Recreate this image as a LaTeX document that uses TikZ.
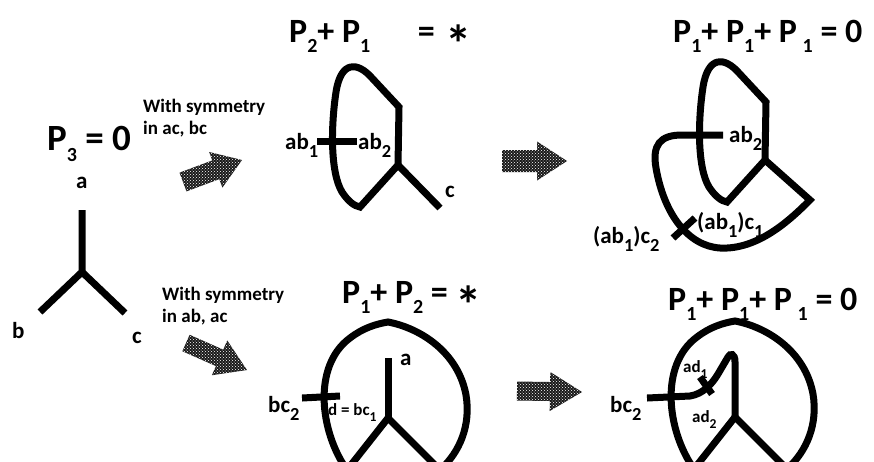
\documentclass[tikz,border=0pt]{standalone}
\usepackage{fontspec}
\setmainfont{Carlito}
\usetikzlibrary{patterns,calc}
\newcommand\tsub[1]{\raisebox{-0.3em}{\fontsize{20}{20}\selectfont #1}}
\newcommand\lsub[1]{\raisebox{-0.38em}{\scalebox{0.8}{#1}}}
\newcommand\bigast{\raisebox{-0.6em}{\scalebox{1.55}{*}}}
\newcommand\blockarr[5]{%
  \coordinate (#1-n) at ($(#2)!#5!(#1)$);
  \path[hatchfill] ($(#1)!#3!90:(#2)$) -- ($(#1-n)!#3!90:(#2)$) -- ($(#1-n)!#4!90:(#2)$) -- (#2)
     -- ($(#1-n)!#4!-90:(#2)$) -- ($(#1-n)!#3!-90:(#2)$) -- ($(#1)!#3!-90:(#2)$) -- cycle;}
\newcommand\loopApath{(0,0) -- (1,-58) -- (-26,-87) .. controls (-40,-103) and (-57,-105) .. (-62,-73)
  .. controls (-67,-40) and (-68,7) .. (-56,27) .. controls (-50,36) and (-44,41) .. (-38,42) -- cycle}
\newcommand\loopBpath{(0,0) -- (-41,52) .. controls (-68,14) and (-76,-52) .. (-38,-80)
  .. controls (-25,-90) and (-12,-94) .. (0,-96) .. controls (32,-90) and (70,-66) .. (78,-23)
  .. controls (83,7) and (72,34) .. (52,52) -- cycle}
\tikzset{
  wire/.style={line width=7pt},
  ttl/.style={font=\fontsize{34}{38}\selectfont\bfseries, anchor=base west, inner sep=0pt},
  big/.style={font=\fontsize{37}{40}\selectfont\bfseries, anchor=base west, inner sep=0pt},
  lbl/.style={font=\fontsize{23}{26}\selectfont\bfseries, anchor=base west, inner sep=0pt},
  sml/.style={font=\fontsize{17}{19}\selectfont\bfseries, anchor=base west, inner sep=0pt},
  note/.style={font=\fontsize{19}{22}\selectfont\bfseries, anchor=base west, inner sep=0pt},
  hatchfill/.style={preaction={fill=black!90}, pattern=crosshatch dots, pattern color=white}
}
\begin{document}
\begin{tikzpicture}[x=1pt,y=-1pt]
\fill[white] (0,0) rectangle (874,461);
\useasboundingbox (0,0) rectangle (874,461);
\clip (0,0) rectangle (874,461);

% ---- left: P3 = 0 and the Y ----
\node[big] (tp3) at (47,150) {P\tsub{3} = 0};
\coordinate (ya) at (82,210);
\coordinate (yv) at (82,272);
\coordinate (yb) at (40,312);
\coordinate (yc) at (125,313);
\draw[wire] (ya) -- (yv) -- (yb);
\draw[wire] (yv) -- (yc);
\node[lbl] (la) at (76,188) {a};
\node[lbl] (lb) at (12,338) {b};
\node[lbl] (lc) at (132,343) {c};

% ---- notes and arrows ----
\node[note] (n1a) at (143,112) {With symmetry};
\node[note] (n1b) at (143,134) {in ac, bc};
\node[note] (n2a) at (162,300) {With symmetry};
\node[note] (n2b) at (162,322) {in ab, ac};

\coordinate (a1t) at (183,182); \coordinate (a1h) at (242,160);
\blockarr{a1t}{a1h}{10pt}{19pt}{28pt}
\coordinate (a2t) at (186,343); \coordinate (a2h) at (247,370);
\blockarr{a2t}{a2h}{9pt}{19pt}{30pt}
\coordinate (a3t) at (502,161); \coordinate (a3h) at (567,161);
\blockarr{a3t}{a3h}{11pt}{19.5pt}{30pt}
\coordinate (a4t) at (517,391); \coordinate (a4h) at (582,392);
\blockarr{a4t}{a4h}{9.5pt}{19.5pt}{32pt}

% ---- top middle: P2 + P1 = * ----
\node[ttl] (t2) at (289,42) {P\tsub{2}+ P\tsub{1}\hspace{1.4em}=\hspace{0.3em}\bigast};
\coordinate (v2) at (398,165);
\coordinate (t2c) at (440,208);
\begin{scope}[shift={(v2)}]
  \draw[wire] \loopApath;
\end{scope}
\draw[wire] (v2) -- (t2c);
\coordinate (x2a) at (317,141); \coordinate (x2b) at (357,141);
\draw[wire] (x2a) -- (x2b);
\node[lbl] (l2a) at (285,149) {ab\lsub{1}};
\node[lbl] (l2b) at (358,149) {ab\lsub{2}};
\node[lbl] (l2c) at (445,197) {c};

% ---- top right: P1 + P1 + P1 = 0 ----
\node[ttl] (t3) at (673,42) {P\tsub{1}+ P\tsub{1}+ P\,\tsub{1} = 0};
\coordinate (v3) at (765,160);
\coordinate (k3) at (810,200);
\coordinate (e3) at (723,135);
\begin{scope}[shift={(v3)}]
  \draw[wire] \loopApath;
\end{scope}
\draw[wire] (v3) -- (k3) .. controls (790,220) and (758,250) .. (720,248)
  .. controls (688,246) and (664,214) .. (656,168) .. controls (652,145) and (660,135) .. (682,135) -- (e3);
\coordinate (x3a) at (673,238); \coordinate (x3b) at (695,218);
\draw[wire] (x3a) -- (x3b);
\node[lbl] (l3a) at (729,142) {ab\lsub{2}};
\node[lbl] (l3b) at (697,229) {(ab\lsub{1})c\lsub{1}};
\node[lbl] (l3c) at (593,243) {(ab\lsub{1})c\lsub{2}};

% ---- bottom middle: P1 + P2 = * ----
\node[ttl] (t4) at (342,303) {P\tsub{1}+ P\tsub{2} = \bigast};
\coordinate (v4) at (388,418);
\coordinate (s4) at (388,358);
\begin{scope}[shift={(v4)}]
  \draw[wire] \loopBpath;
\end{scope}
\draw[wire] (v4) -- (s4);
\coordinate (x4a) at (302,398); \coordinate (x4b) at (340,396);
\draw[wire] (x4a) -- (x4b);
\node[lbl] (l4a) at (400,365) {a};
\node[lbl] (l4b) at (268,412) {bc\lsub{2}};
\node[sml] (l4c) at (328,415) {d = bc\lsub{1}};

% ---- bottom right: P1 + P1 + P1 = 0 ----
\node[ttl] (t5) at (668,310) {P\tsub{1}+ P\tsub{1}+ P\,\tsub{1} = 0};
\coordinate (v5) at (735,417);
\coordinate (b5) at (647,398);
\begin{scope}[shift={(v5)}]
  \draw[wire] \loopBpath;
\end{scope}
\draw[wire] (b5) -- (690,396) .. controls (703,394) and (712,384) .. (718,374) -- (728,357)
  .. controls (730,353) and (735,353) .. (735,362) -- (v5);
\coordinate (x5a) at (700,377); \coordinate (x5b) at (712,394);
\draw[wire] (x5a) -- (x5b);
\node[lbl] (l5a) at (610,412) {bc\lsub{2}};
\node[sml] (l5b) at (683,372) {ad\lsub{1}};
\node[sml] (l5c) at (692,422) {ad\lsub{2}};
\end{tikzpicture}
\end{document}
